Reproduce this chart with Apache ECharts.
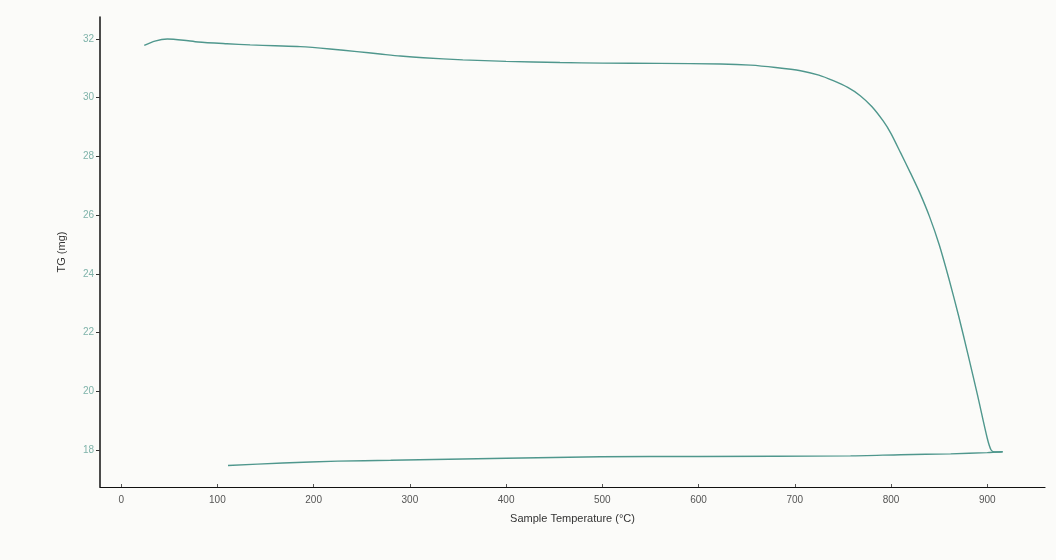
<!DOCTYPE html>
<html>
<head>
<meta charset="utf-8">
<script src="https://cdn.jsdelivr.net/npm/echarts@6/dist/echarts.min.js"></script>
<style>
html,body{margin:0;padding:0;background:#fbfbf9;}
#c{width:1056px;height:560px;}
</style>
</head>
<body>
<div id="c"></div>
<script>
// Heating trace: sample temperature (°C) and TG (mg)
const heatTemp = [24, 35, 48, 65, 80, 110, 134, 160, 186, 217, 245, 269, 290, 314, 355, 400, 456, 500, 560, 623, 654, 680, 706, 725, 740, 755, 768, 780, 792, 800, 810, 820, 830, 840, 850, 860, 870, 880, 890, 900, 904, 908, 916];
const heatTG = [31.78, 31.93, 32.00, 31.96, 31.90, 31.84, 31.80, 31.77, 31.74, 31.66, 31.57, 31.49, 31.42, 31.36, 31.29, 31.24, 31.20, 31.18, 31.17, 31.15, 31.11, 31.03, 30.92, 30.77, 30.58, 30.35, 30.07, 29.70, 29.20, 28.78, 28.12, 27.45, 26.75, 25.95, 25.00, 23.85, 22.60, 21.25, 19.85, 18.40, 18.00, 17.93, 17.94];
// Return trace
const returnTemp = [916, 900, 862, 810, 758, 600, 498, 400, 280, 225, 168, 111];
const returnTG = [17.94, 17.91, 17.87, 17.84, 17.80, 17.78, 17.77, 17.72, 17.65, 17.62, 17.56, 17.47];
const xTicks = [0, 100, 200, 300, 400, 500, 600, 700, 800, 900];
const yTicks = [18, 20, 22, 24, 26, 28, 30, 32];

const lineColor = '#4f978d';
const chart = echarts.init(document.getElementById('c'), null, {renderer: 'canvas'});
chart.setOption({
  backgroundColor: '#fbfbf9',
  animation: false,
  grid: {left: 100, right: 11, top: 17, bottom: 73},
  xAxis: {
    type: 'value', min: -22, max: 960,
    name: 'Sample Temperature (°C)', nameLocation: 'middle', nameGap: 26,
    nameTextStyle: {color: '#333', fontFamily: 'Liberation Sans', fontSize: 11},
    axisLine: {onZero: false, lineStyle: {color: '#111', width: 1.2}},
    axisTick: {show: true, inside: true, length: 3, customValues: xTicks, lineStyle: {color: '#555'}},
    axisLabel: {customValues: xTicks, color: '#555', fontFamily: 'Liberation Sans', fontSize: 10, margin: 8},
    splitLine: {show: false}
  },
  yAxis: {
    type: 'value', min: 16.74, max: 32.75,
    name: 'TG (mg)', nameLocation: 'middle', nameGap: 33, nameRotate: 90,
    nameTextStyle: {color: '#333', fontFamily: 'Liberation Sans', fontSize: 11},
    axisLine: {show: true, onZero: false, lineStyle: {color: '#111', width: 1.5}},
    axisTick: {show: true, length: 4, customValues: yTicks, lineStyle: {color: '#333'}},
    axisLabel: {customValues: yTicks, color: '#7fb3aa', fontFamily: 'Liberation Sans', fontSize: 10, margin: 6},
    splitLine: {show: false}
  },
  series: [{
    type: 'line',
    data: heatTemp.map((t, i) => [t, heatTG[i]]),
    showSymbol: false,
    smooth: 0.25,
    lineStyle: {color: lineColor, width: 1.4}
  }, {
    type: 'line',
    data: returnTemp.map((t, i) => [t, returnTG[i]]),
    showSymbol: false,
    smooth: 0.25,
    lineStyle: {color: lineColor, width: 1.4}
  }]
});
</script>
</body>
</html>
